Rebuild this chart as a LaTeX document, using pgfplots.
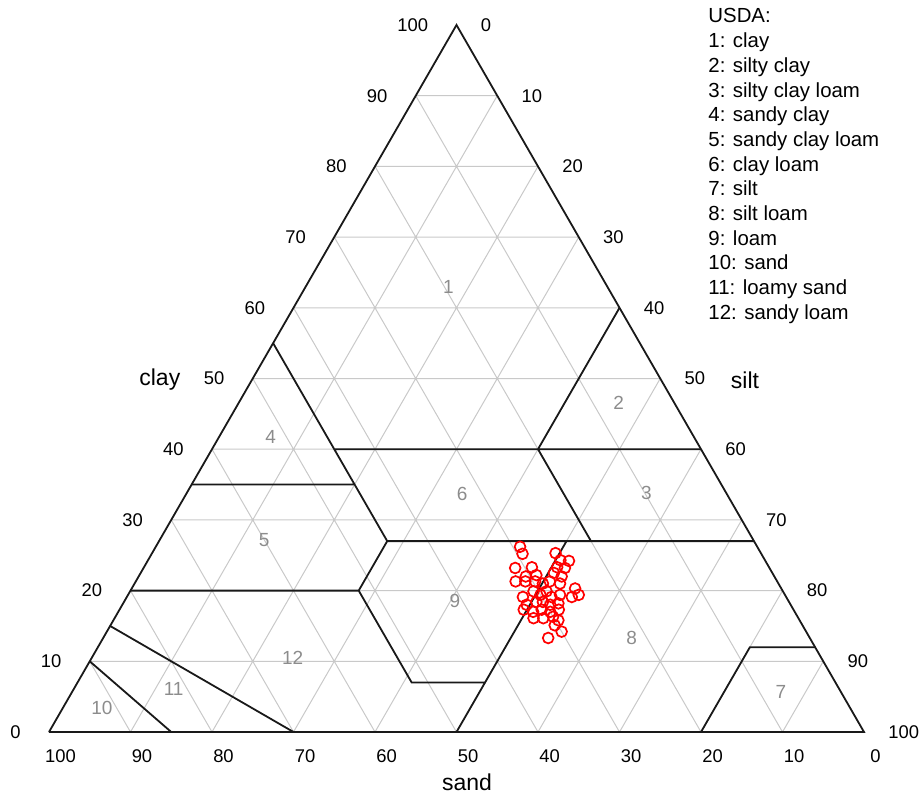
\documentclass[border=0pt]{standalone}
\usepackage{fontspec}
\setmainfont{Liberation Sans}
\usepackage{pgfplots}
\pgfplotsset{compat=1.18}
\usepackage{pgfplotstable}
\tikzset{
  tk/.style={font=\fontsize{9.2}{10}\selectfont, inner sep=0pt},
  rl/.style={font=\fontsize{9.5}{10}\selectfont, text=black!45, inner sep=0pt},
}

% grid lines (clay, silt); sand = 100 - clay - silt
\pgfplotstableread{
clay silt
10 0
10 90
nan nan
20 0
20 80
nan nan
30 0
30 70
nan nan
40 0
40 60
nan nan
50 0
50 50
nan nan
60 0
60 40
nan nan
70 0
70 30
nan nan
80 0
80 20
nan nan
90 0
90 10
nan nan
0 10
90 10
nan nan
0 20
80 20
nan nan
0 30
70 30
nan nan
0 40
60 40
nan nan
0 50
50 50
nan nan
0 60
40 60
nan nan
0 70
30 70
nan nan
0 80
20 80
nan nan
0 90
10 90
nan nan
0 10
10 0
nan nan
0 20
20 0
nan nan
0 30
30 0
nan nan
0 40
40 0
nan nan
0 50
50 0
nan nan
0 60
60 0
nan nan
0 70
70 0
nan nan
0 80
80 0
nan nan
0 90
90 0
}\gridtable

% triangle outline
\pgfplotstableread{
clay silt
0 0
0 100
100 0
0 0
}\outline

% USDA class boundaries
\pgfplotstableread{
clay silt
55 0
27 28
nan nan
35 0
35 20
nan nan
40 15
40 60
nan nan
60 40
40 40
27 53
nan nan
27 28
27 73
nan nan
27 28
20 28
7 41
7 50
nan nan
20 0
20 28
nan nan
27 50
0 50
nan nan
12 88
12 80
0 80
nan nan
15 0
0 30
nan nan
10 0
0 15
}\bounds

% samples
\pgfplotstableread{
clay silt
26.2 44.7
25.2 45.5
25.3 49.5
24.3 50.6
24.2 51.7
23.2 45.6
23.3 47.6
23.3 50.7
23.2 51.7
22.0 47.5
22.2 48.7
22.5 50.7
22.0 51.9
21.3 46.6
21.3 47.8
21.3 49.0
21.0 50.1
21.3 50.8
21.0 52.2
20.3 54.4
19.1 54.6
19.4 55.3
19.1 48.6
19.9 49.5
19.4 50.6
19.9 51.1
19.1 52.1
19.4 53.0
18.0 49.6
18.4 50.6
18.4 51.4
18.0 52.5
18.2 53.4
17.3 49.6
17.0 50.9
17.3 51.8
17.0 53.0
17.3 53.9
16.1 51.4
16.1 52.6
16.3 53.7
15.8 54.6
15.1 54.5
14.2 55.8
13.3 54.6
}\samples

\begin{document}
\begin{tikzpicture}
\path[use as bounding box] (-24.5pt,-31pt) rectangle (435.5pt,366pt);
\begin{axis}[
  scale only axis, width=407.5pt, height=353.5pt,
  xmin=0, xmax=100, ymin=0, ymax=100,
  hide axis, clip=false,
  unbounded coords=jump,
]
\addplot[gray!42, line width=0.5pt] table[x expr=\thisrow{silt}+0.5*\thisrow{clay}, y=clay] {\gridtable};
\addplot[black!90, line width=0.9pt] table[x expr=\thisrow{silt}+0.5*\thisrow{clay}, y=clay] {\bounds};
\addplot[black!90, line width=0.9pt] table[x expr=\thisrow{silt}+0.5*\thisrow{clay}, y=clay] {\outline};
\addplot[only marks, mark=o, mark size=2.7pt, red, mark options={line width=0.85pt}] table[x expr=\thisrow{silt}+0.5*\thisrow{clay}, y=clay] {\samples};

% clay ticks (left)
\node[tk, anchor=east, xshift=-14pt] at (axis cs:0,0) {0};
\node[tk, anchor=east, xshift=-14pt] at (axis cs:5,10) {10};
\node[tk, anchor=east, xshift=-14pt] at (axis cs:10,20) {20};
\node[tk, anchor=east, xshift=-14pt] at (axis cs:15,30) {30};
\node[tk, anchor=east, xshift=-14pt] at (axis cs:20,40) {40};
\node[tk, anchor=east, xshift=-14pt] at (axis cs:25,50) {50};
\node[tk, anchor=east, xshift=-14pt] at (axis cs:30,60) {60};
\node[tk, anchor=east, xshift=-14pt] at (axis cs:35,70) {70};
\node[tk, anchor=east, xshift=-14pt] at (axis cs:40,80) {80};
\node[tk, anchor=east, xshift=-14pt] at (axis cs:45,90) {90};
\node[tk, anchor=east, xshift=-14pt] at (axis cs:50,100) {100};
% silt ticks (right)
\node[tk, anchor=west, xshift=12pt] at (axis cs:50,100) {0};
\node[tk, anchor=west, xshift=12pt] at (axis cs:55,90) {10};
\node[tk, anchor=west, xshift=12pt] at (axis cs:60,80) {20};
\node[tk, anchor=west, xshift=12pt] at (axis cs:65,70) {30};
\node[tk, anchor=west, xshift=12pt] at (axis cs:70,60) {40};
\node[tk, anchor=west, xshift=12pt] at (axis cs:75,50) {50};
\node[tk, anchor=west, xshift=12pt] at (axis cs:80,40) {60};
\node[tk, anchor=west, xshift=12pt] at (axis cs:85,30) {70};
\node[tk, anchor=west, xshift=12pt] at (axis cs:90,20) {80};
\node[tk, anchor=west, xshift=12pt] at (axis cs:95,10) {90};
\node[tk, anchor=west, xshift=12pt] at (axis cs:100,0) {100};
% sand ticks (bottom)
\node[tk, xshift=5.75pt, yshift=-12pt] at (axis cs:0,0) {100};
\node[tk, xshift=5.75pt, yshift=-12pt] at (axis cs:10,0) {90};
\node[tk, xshift=5.75pt, yshift=-12pt] at (axis cs:20,0) {80};
\node[tk, xshift=5.75pt, yshift=-12pt] at (axis cs:30,0) {70};
\node[tk, xshift=5.75pt, yshift=-12pt] at (axis cs:40,0) {60};
\node[tk, xshift=5.75pt, yshift=-12pt] at (axis cs:50,0) {50};
\node[tk, xshift=5.75pt, yshift=-12pt] at (axis cs:60,0) {40};
\node[tk, xshift=5.75pt, yshift=-12pt] at (axis cs:70,0) {30};
\node[tk, xshift=5.75pt, yshift=-12pt] at (axis cs:80,0) {20};
\node[tk, xshift=5.75pt, yshift=-12pt] at (axis cs:90,0) {10};
\node[tk, xshift=5.75pt, yshift=-12pt] at (axis cs:100,0) {0};

% axis titles
\node[font=\fontsize{11.5}{12}\selectfont, inner sep=0pt] at (axis cs:13.6,49.8) {clay};
\node[font=\fontsize{11.5}{12}\selectfont, inner sep=0pt] at (axis cs:85.4,49.8) {silt};
\node[font=\fontsize{11.5}{12}\selectfont, inner sep=0pt] at (axis cs:51.3,-7.1) {sand};

% class numbers
\node[rl] at (axis cs:49.0,62.9) {1};
\node[rl] at (axis cs:69.9,46.5) {2};
\node[rl] at (axis cs:73.3,33.8) {3};
\node[rl] at (axis cs:27.2,41.7) {4};
\node[rl] at (axis cs:26.4,27.2) {5};
\node[rl] at (axis cs:50.7,33.7) {6};
\node[rl] at (axis cs:89.8,5.7) {7};
\node[rl] at (axis cs:71.5,13.3) {8};
\node[rl] at (axis cs:49.8,18.5) {9};
\node[rl] at (axis cs:6.5,3.4) {10};
\node[rl] at (axis cs:15.3,6.1) {11};
\node[rl] at (axis cs:29.9,10.5) {12};

% legend text
\node[anchor=north west, inner sep=0pt, align=left, font=\fontsize{10.2}{12.35}\selectfont] at (axis cs:80.86,102.36)
 {USDA:\\1: clay\\2: silty clay\\3: silty clay loam\\4: sandy clay\\5: sandy clay loam\\6: clay loam\\7: silt\\8: silt loam\\9: loam\\10: sand\\11: loamy sand\\12: sandy loam};
\end{axis}
\end{tikzpicture}
\end{document}
